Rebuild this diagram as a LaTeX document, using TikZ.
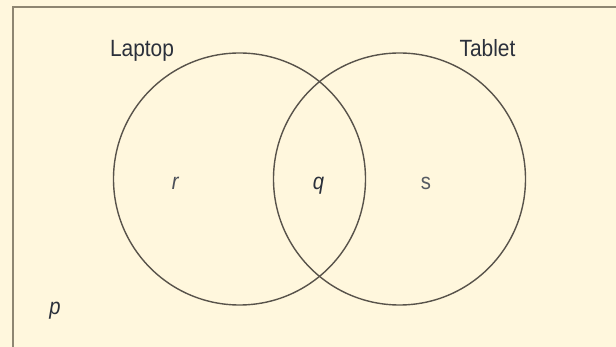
\documentclass[tikz,border=0pt]{standalone}
\usepackage{fontspec}
\setmainfont{Liberation Sans}
\begin{document}
\begin{tikzpicture}[x=1pt,y=-1pt,
  lbl/.style={text=txt,font=\fontsize{23.5}{26}\selectfont,xscale=0.89,transform shape,inner sep=0pt,anchor=base},
  var/.style={text=txt,font=\fontsize{23}{26}\selectfont,xscale=0.88,transform shape,inner sep=0pt,anchor=base},
  set/.style={draw=circ,line width=1.4pt}]
\definecolor{bg}{HTML}{FFF7DD}
\definecolor{frame}{HTML}{8E8672}
\definecolor{circ}{HTML}{58534B}
\definecolor{txt}{HTML}{2B303B}
\fill[bg] (0,0) rectangle (616,347);
\useasboundingbox (0,0) rectangle (616,347);
\draw[frame,line width=2pt] (12.5,360) -- (12.5,7.5) -- (630,7.5);
\node[set,circle,minimum size=252pt,inner sep=0pt] (L) at (239.5,179) {};
\node[set,circle,minimum size=252pt,inner sep=0pt] (T) at (399.5,179) {};
\node[lbl] (lt) at (142,57) {Laptop};
\node[lbl] (tb) at (487.5,57) {Tablet};
\node[var,text=txt!85] (r) at (175.5,190) {\textit{r}};
\node[var] (q) at (318.5,190) {\textit{q}};
\node[var,text=txt!80] (s) at (426,190) {s};
\node[var] (p) at (55,315) {\textit{p}};
\end{tikzpicture}
\end{document}
